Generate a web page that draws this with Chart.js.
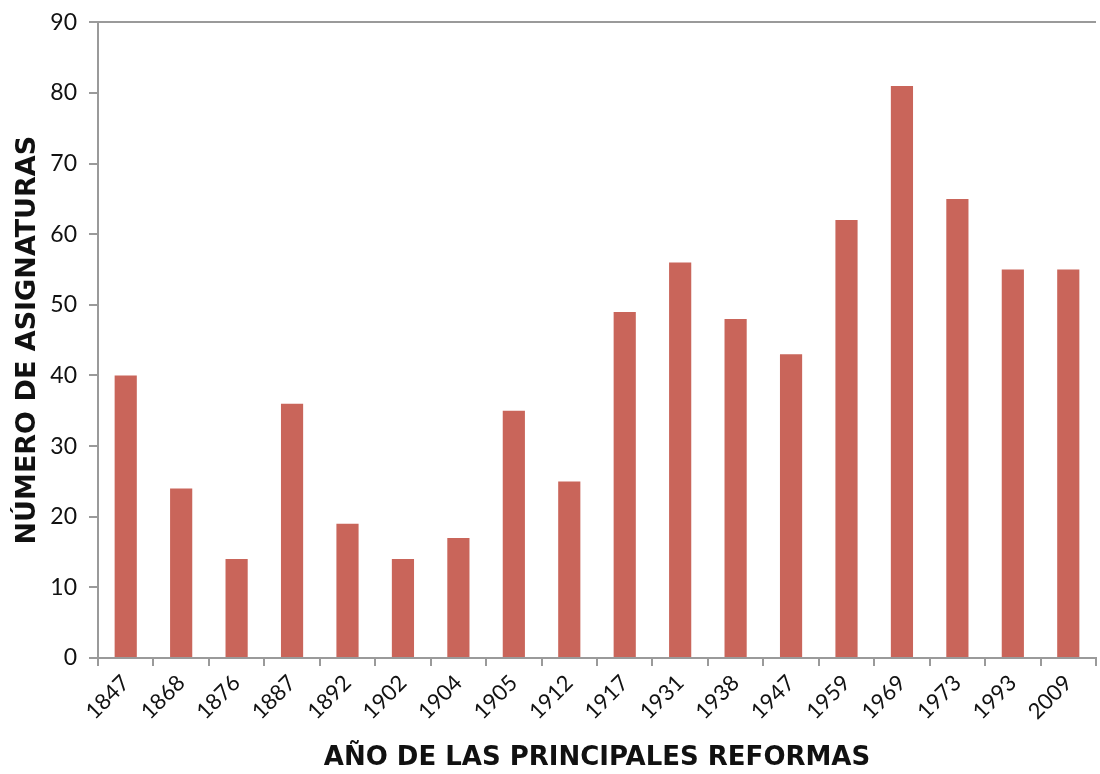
<!DOCTYPE html>
<html>
<head>
<meta charset="utf-8">
<script src="https://cdn.jsdelivr.net/npm/chart.js@4/dist/chart.umd.min.js"></script>
<style>
html,body{margin:0;padding:0;background:#fff;}
#wrap{position:absolute;left:0;top:0;width:1100px;height:774px;}
</style>
</head>
<body>
<div id="wrap"><canvas id="c" width="1100" height="774"></canvas></div>
<script>
const years = ['1847','1868','1876','1887','1892','1902','1904','1905','1912','1917','1931','1938','1947','1959','1969','1973','1993','2009'];
const asignaturas = [40,24,14,36,19,14,17,35,25,49,56,48,43,62,81,65,55,55];
const yTicks = [0,10,20,30,40,50,60,70,80,90];
const xTitle = 'AÑO DE LAS PRINCIPALES REFORMAS';
const yTitle = 'NÚMERO DE ASIGNATURAS';

const axisGrey = '#9a9a9a';
const fontFam = 'Lato, "Open Sans", sans-serif';
const titleFam = '"DejaVu Sans", sans-serif';

new Chart(document.getElementById('c'), {
  type: 'bar',
  data: {
    labels: years,
    datasets: [{
      data: asignaturas,
      backgroundColor: '#C9655A',
      borderWidth: 0,
      barPercentage: 0.4,
      categoryPercentage: 1.0
    }]
  },
  options: {
    responsive: false,
    animation: false,
    devicePixelRatio: 1,
    layout: { padding: { top: 21, right: 4, left: 0, bottom: 0 } },
    plugins: { legend: { display: false }, tooltip: { enabled: false } },
    scales: {
      x: {
        offset: true,
        grid: { display: true, drawOnChartArea: false, offset: true, tickLength: 8, color: axisGrey, lineWidth: 2 },
        border: { display: true, color: axisGrey, width: 2 },
        ticks: { color: '#111', font: { family: fontFam, size: 22 }, maxRotation: 45, minRotation: 45, padding: 4, autoSkip: false },
        title: { display: true, text: xTitle, color: '#111', font: { family: titleFam, size: 26, weight: 'bold' }, padding: { top: 22, bottom: 0 } },
        afterFit: s => { s.height = 116; }
      },
      y: {
        min: 0, max: 90,
        afterBuildTicks: s => { s.ticks = yTicks.map(v => ({ value: v })); },
        grid: {
          display: true, drawTicks: true, tickLength: 9, tickColor: axisGrey, lineWidth: 2,
          color: ctx => (ctx.tick && ctx.tick.value === 90) ? axisGrey : 'rgba(0,0,0,0)'
        },
        border: { display: true, color: axisGrey, width: 2 },
        ticks: { color: '#111', font: { family: fontFam, size: 23, lineHeight: 0.9 }, padding: 12 },
        title: { display: true, text: yTitle, color: '#111', font: { family: titleFam, size: 27, weight: 'bold' }, padding: { top: 12, bottom: 0 } },
        afterFit: s => { s.width = 98; }
      }
    }
  }
});
</script>
</body>
</html>
